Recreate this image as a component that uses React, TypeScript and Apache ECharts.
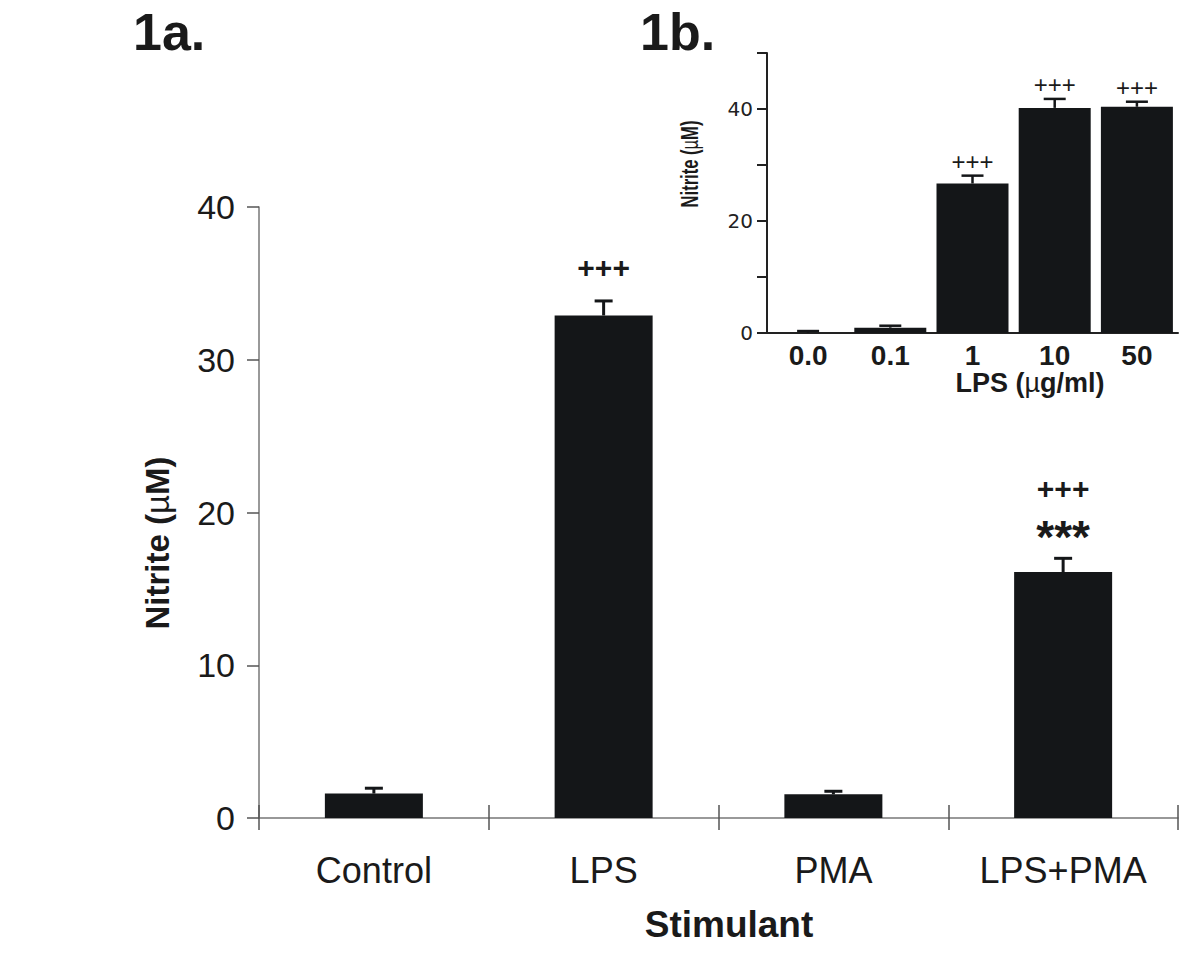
import React, { useEffect, useRef } from "react";
import * as echarts from "echarts";

// ---- Main chart (1a) data ----
const mainCategories = ["Control", "LPS", "PMA", "LPS+PMA"];
const mainMeans = [1.6, 32.9, 1.55, 16.1];
const mainErrors = [0.35, 0.95, 0.2, 0.9];
const mainPlus = ["", "+++", "", "+++"];
const mainStars = ["", "", "", "***"];
const mainYMin = 0;
const mainYMax = 40;
const mainYInterval = 10;

// ---- Inset chart (1b) data ----
const insetCategories = ["0.0", "0.1", "1", "10", "50"];
const insetMeans = [0, 0.95, 26.7, 40.2, 40.4];
const insetErrors = [0.35, 0.35, 1.4, 1.6, 0.9];
const insetPlus = ["", "", "+++", "+++", "+++"];
const insetYMin = 0;
const insetYMax = 50;
const insetYInterval = 10;
const insetYLabels = [0, 20, 40];

const FONT = "Liberation Sans, Arial, sans-serif";
const BAR = "#141618";
const TEXT = "#1a1a1a";

function errorSeries(
  gridIdx: number,
  means: number[],
  errs: number[],
  plus: string[],
  stars: string[] | null,
  opts: { cap: number; lw: number; plusFont: string; plusOff: number; plusOffStar: number; starOff: number }
) {
  return {
    type: "custom",
    xAxisIndex: gridIdx === 0 ? 0 : 2,
    yAxisIndex: gridIdx,
    silent: true,
    clip: false,
    z: 5,
    data: means.map((m, i) => [i, m, errs[i]]),
    encode: { x: 0, y: 1 },
    renderItem: (params: any, api: any) => {
      const i = api.value(0);
      const m = api.value(1);
      const e = api.value(2);
      const base = api.coord([i, m]);
      const top = api.coord([i, m + e]);
      const children: any[] = [
        {
          type: "line",
          shape: { x1: base[0], y1: base[1], x2: top[0], y2: top[1] },
          style: { stroke: BAR, lineWidth: opts.lw },
        },
        {
          type: "line",
          shape: { x1: top[0] - opts.cap, y1: top[1], x2: top[0] + opts.cap, y2: top[1] },
          style: { stroke: BAR, lineWidth: opts.lw },
        },
      ];
      const hasStar = stars && stars[i];
      if (plus[i]) {
        children.push({
          type: "text",
          x: top[0],
          y: top[1] - (hasStar ? opts.plusOffStar : opts.plusOff),
          style: {
            text: plus[i],
            font: opts.plusFont,
            fill: TEXT,
            align: "center",
            verticalAlign: "middle",
          },
        });
      }
      if (hasStar) {
        children.push({
          type: "text",
          x: top[0],
          y: top[1] - opts.starOff,
          style: {
            text: stars![i],
            font: `bold 46px ${FONT}`,
            fill: TEXT,
            align: "center",
            verticalAlign: "middle",
          },
        });
      }
      return { type: "group", children };
    },
  };
}

export default function App() {
  const ref = useRef<HTMLDivElement>(null);

  useEffect(() => {
    if (!ref.current) return;
    const chart = echarts.init(ref.current, null, { renderer: "svg" });
    const option: any = {
      animation: false,
      backgroundColor: "#ffffff",
      grid: [
        { left: 259, right: 22, top: 207, bottom: 141 },
        { left: 767, right: 22, top: 53, bottom: 626 },
      ],
      xAxis: [
        {
          gridIndex: 0,
          type: "category",
          data: mainCategories,
          position: "bottom",
          axisLine: { lineStyle: { color: "#777", width: 1.5 } },
          axisTick: { show: true, length: 12, lineStyle: { color: "#555", width: 1.5 } },
          axisLabel: { color: TEXT, fontSize: 36, fontFamily: FONT, margin: 34 },
        },
        {
          gridIndex: 0,
          type: "category",
          data: mainCategories,
          position: "bottom",
          axisLine: { show: false },
          axisTick: { show: true, inside: true, length: 13, lineStyle: { color: "#555", width: 1.5 } },
          axisLabel: { show: false },
        },
        {
          gridIndex: 1,
          type: "category",
          data: insetCategories,
          axisLine: { lineStyle: { color: "#222", width: 2 } },
          axisTick: { show: false },
          axisLabel: { color: TEXT, fontSize: 28, fontWeight: "bold", fontFamily: FONT, margin: 8 },
        },
      ],
      yAxis: [
        {
          gridIndex: 0,
          type: "value",
          min: mainYMin,
          max: mainYMax,
          interval: mainYInterval,
          splitLine: { show: false },
          axisLine: { show: true, lineStyle: { color: "#777", width: 1.5 } },
          axisTick: { show: true, length: 12, lineStyle: { color: "#555", width: 1.5 } },
          axisLabel: { color: TEXT, fontSize: 34, fontFamily: FONT, margin: 24 },
        },
        {
          gridIndex: 1,
          type: "value",
          min: insetYMin,
          max: insetYMax,
          interval: insetYInterval,
          splitLine: { show: false },
          axisLine: { show: true, lineStyle: { color: "#222", width: 2 } },
          axisTick: { show: true, length: 10, lineStyle: { color: "#222", width: 2 } },
          axisLabel: {
            color: "#222",
            fontSize: 20,
            fontFamily: "DejaVu Sans",
            margin: 14,
            formatter: (v: number) => (insetYLabels.includes(v) ? String(v) : ""),
          },
        },
      ],
      series: [
        {
          type: "bar",
          xAxisIndex: 0,
          yAxisIndex: 0,
          data: mainMeans,
          barWidth: 98,
          itemStyle: { color: BAR },
          silent: true,
        },
        {
          type: "bar",
          xAxisIndex: 2,
          yAxisIndex: 1,
          data: insetMeans,
          barWidth: 72,
          itemStyle: { color: BAR },
          silent: true,
        },
        errorSeries(0, mainMeans, mainErrors, mainPlus, mainStars, {
          cap: 9,
          lw: 3,
          plusFont: `bold 30px ${FONT}`,
          plusOff: 33,
          plusOffStar: 70,
          starOff: 21,
        }),
        errorSeries(1, insetMeans, insetErrors, insetPlus, null, {
          cap: 11,
          lw: 2.5,
          plusFont: `24px ${FONT}`,
          plusOff: 14,
          plusOffStar: 14,
          starOff: 0,
        }),
      ],
      graphic: [
        {
          type: "text",
          left: 133,
          top: 6,
          style: { text: "1a.", font: `bold 52px ${FONT}`, fill: TEXT },
        },
        {
          type: "text",
          left: 640,
          top: 6,
          style: { text: "1b.", font: `bold 52px ${FONT}`, fill: TEXT },
        },
        {
          type: "text",
          x: 157,
          y: 543,
          rotation: Math.PI / 2,
          style: {
            text: "Nitrite ({m|µ}M)",
            font: `bold 33px ${FONT}`,
            fill: TEXT,
            align: "center",
            verticalAlign: "middle",
            rich: { m: { fontSize: 33, fontWeight: "normal", fontFamily: FONT, fill: TEXT } },
          },
        },
        {
          type: "text",
          x: 729,
          y: 924,
          style: {
            text: "Stimulant",
            font: `bold 37px ${FONT}`,
            fill: TEXT,
            align: "center",
            verticalAlign: "middle",
          },
        },
        {
          type: "text",
          x: 690,
          y: 164,
          rotation: Math.PI / 2,
          scaleX: 0.72,
          style: {
            text: "Nitrite ({m|µ}M)",
            font: `bold 23px ${FONT}`,
            fill: TEXT,
            align: "center",
            verticalAlign: "middle",
            rich: { m: { fontSize: 23, fontWeight: "normal", fontFamily: FONT, fill: TEXT } },
          },
        },
        {
          type: "text",
          x: 1030,
          y: 383,
          style: {
            text: "LPS ({m|µ}g/ml)",
            font: `bold 27px ${FONT}`,
            fill: TEXT,
            align: "center",
            verticalAlign: "middle",
            rich: { m: { fontSize: 27, fontWeight: "normal", fontFamily: FONT, fill: TEXT } },
          },
        },
      ],
    };
    chart.setOption(option);
    return () => chart.dispose();
  }, []);

  return (
    <div
      ref={ref}
      style={{ position: "fixed", left: 0, top: 0, width: 1200, height: 959, background: "#fff" }}
    />
  );
}
